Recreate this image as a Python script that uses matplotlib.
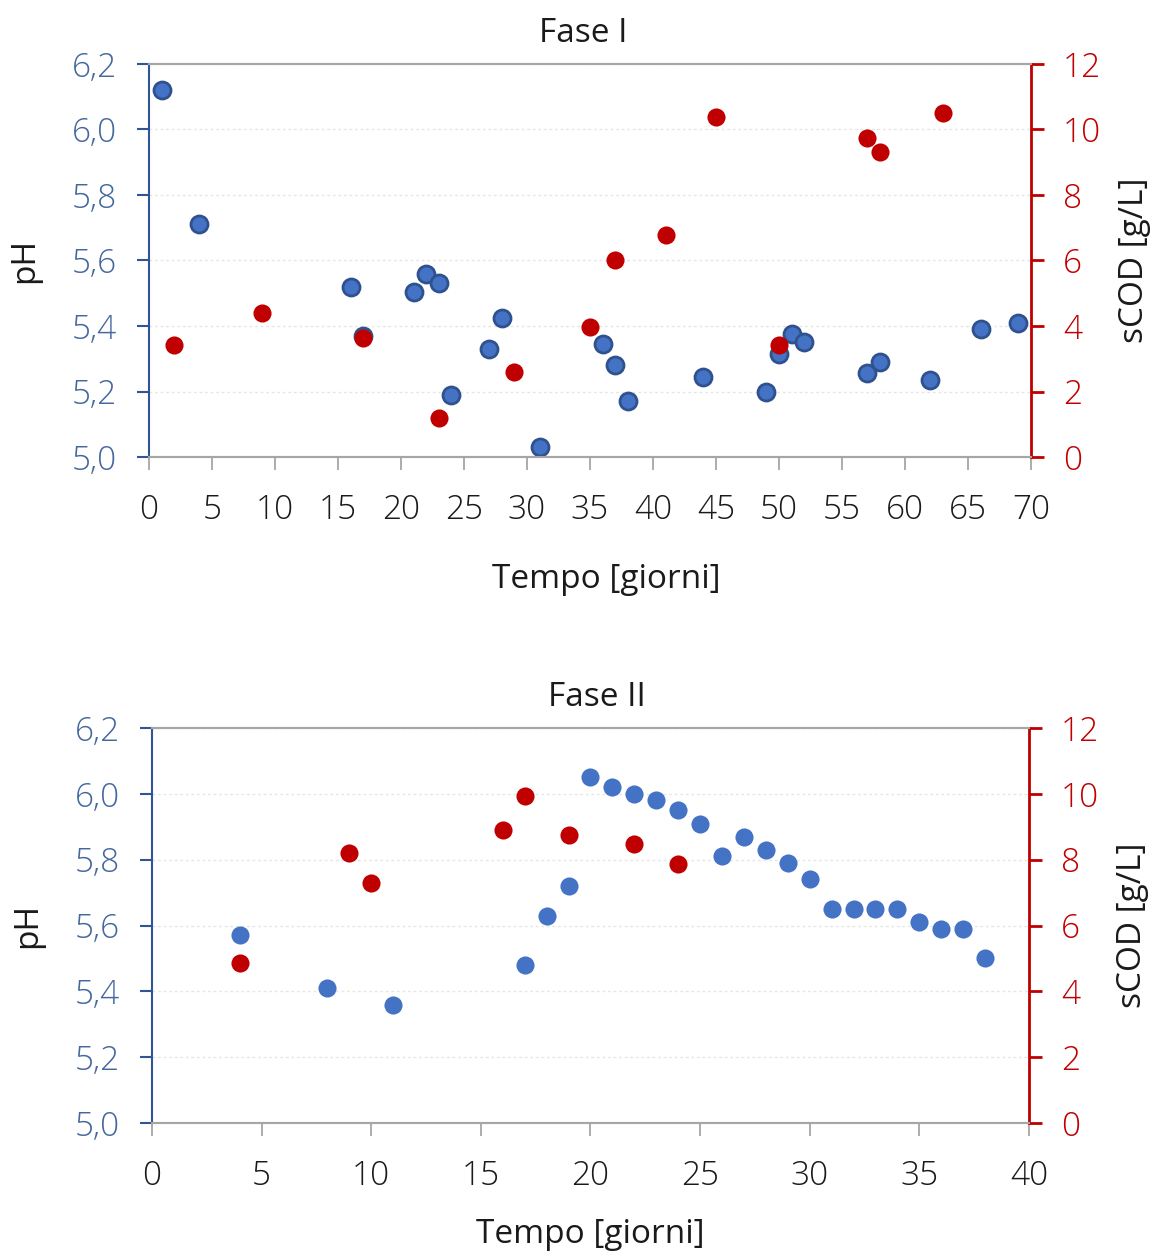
import matplotlib
matplotlib.use('Agg')
import matplotlib.pyplot as plt
from matplotlib.ticker import FuncFormatter, MultipleLocator

# Fase I
day1_ph = [1, 4, 16, 17, 21, 22, 23, 24, 27, 28, 31, 36, 37, 38, 44, 49, 50, 51, 52, 57, 58, 62, 66, 69]
ph1 = [6.12, 5.71, 5.52, 5.37, 5.505, 5.56, 5.53, 5.19, 5.33, 5.425, 5.03, 5.345, 5.28, 5.17,
       5.245, 5.20, 5.315, 5.375, 5.35, 5.255, 5.29, 5.235, 5.39, 5.41]
day1_cod = [2, 9, 17, 23, 29, 35, 37, 41, 45, 50, 57, 58, 63]
cod1 = [3.42, 4.40, 3.63, 1.19, 2.60, 3.97, 6.02, 6.78, 10.38, 3.42, 9.74, 9.31, 10.50]

# Fase II
day2_ph = [4, 8, 11, 17, 18, 19, 20, 21, 22, 23, 24, 25, 26, 27, 28, 29, 30, 31, 32, 33, 34, 35, 36, 37, 38]
ph2 = [5.57, 5.41, 5.36, 5.48, 5.63, 5.72, 6.05, 6.02, 6.00, 5.98, 5.95, 5.91, 5.81, 5.87, 5.83,
       5.79, 5.74, 5.65, 5.65, 5.65, 5.65, 5.61, 5.59, 5.59, 5.50]
day2_cod = [4, 9, 10, 16, 17, 19, 22, 24]
cod2 = [4.86, 8.20, 7.29, 8.90, 9.93, 8.75, 8.47, 7.87]

BLUE = '#4472C4'
BLUE_EDGE = '#2F528F'
RED = '#C00000'
AX_BLUE = '#2F5597'
TICK_BLUE = '#44689E'
GRAY = '#A6A6A6'
TXT = '#1A1A1A'

plt.rcParams['font.family'] = ['Open Sans', 'DejaVu Sans']
plt.rcParams['font.weight'] = 'light'
FS = 24

comma = FuncFormatter(lambda v, p: f'{v:.1f}'.replace('.', ','))

fig = plt.figure(figsize=(11.53, 12.59), dpi=100)


def make_panel(rect, xmax, xstep, days_ph, ph, days_cod, cod, title, edge, title_x, xlabel_x, xlabel_pad):
    ax = fig.add_axes(rect)
    ax2 = ax.twinx()
    if edge:
        ax.scatter(days_ph, ph, s=150, color=BLUE, edgecolors=BLUE_EDGE, linewidths=2, zorder=3, clip_on=False)
    else:
        ax.scatter(days_ph, ph, s=170, color=BLUE, linewidths=0, zorder=3, clip_on=False)
    ax2.scatter(days_cod, cod, s=170, color=RED, linewidths=0, zorder=3, clip_on=False)

    ax.set_xlim(0, xmax)
    ax.set_ylim(5.0, 6.2)
    ax2.set_ylim(0, 12)
    ax.xaxis.set_major_locator(MultipleLocator(xstep))
    ax.yaxis.set_major_locator(MultipleLocator(0.2))
    ax.yaxis.set_major_formatter(comma)
    ax2.yaxis.set_major_locator(MultipleLocator(2))

    ax.grid(axis='y', color='#E6E6E6', linestyle=(0, (2, 2)), linewidth=1)
    ax.set_axisbelow(True)

    for a in (ax, ax2):
        a.spines['top'].set_color(GRAY)
        a.spines['bottom'].set_color(GRAY)
        a.spines['top'].set_linewidth(1.5)
        a.spines['bottom'].set_linewidth(1.5)
    ax.spines['left'].set_color(AX_BLUE)
    ax.spines['left'].set_linewidth(1.5)
    ax2.spines['right'].set_color(RED)
    ax2.spines['right'].set_linewidth(2)
    ax2.spines['left'].set_visible(False)
    ax.spines['right'].set_visible(False)

    ax.tick_params(axis='x', direction='out', length=9, width=1.3, color=GRAY,
                   labelsize=FS, labelcolor=TXT, pad=17)
    ax.tick_params(axis='y', direction='out', length=9, width=1.5, color=AX_BLUE,
                   labelsize=FS, labelcolor=TICK_BLUE, pad=14)
    ax2.tick_params(axis='y', direction='out', length=9, width=2, color=RED,
                    labelsize=FS, labelcolor=RED, pad=14)

    ax.set_xlabel('Tempo [giorni]', fontsize=FS, color=TXT, labelpad=xlabel_pad)
    ax.xaxis.label.set_x(xlabel_x)
    ax.set_ylabel('pH', fontsize=FS, color=TXT, labelpad=22)
    ax2.set_ylabel('sCOD [g/L]', fontsize=FS, color=TXT, labelpad=12)
    ax.set_title(title, fontsize=FS, color=TXT, pad=16, x=title_x)
    return ax, ax2


make_panel([0.1292, 0.637, 0.765, 0.3122], 70, 5, day1_ph, ph1, day1_cod, cod1, 'Fase I', True, 0.492, 0.519, 26)
make_panel([0.1318, 0.108, 0.7606, 0.3137], 40, 5, day2_ph, ph2, day2_cod, cod2, 'Fase II', False, 0.507, 0.5, 18)

fig.savefig('out.png', dpi=100)
